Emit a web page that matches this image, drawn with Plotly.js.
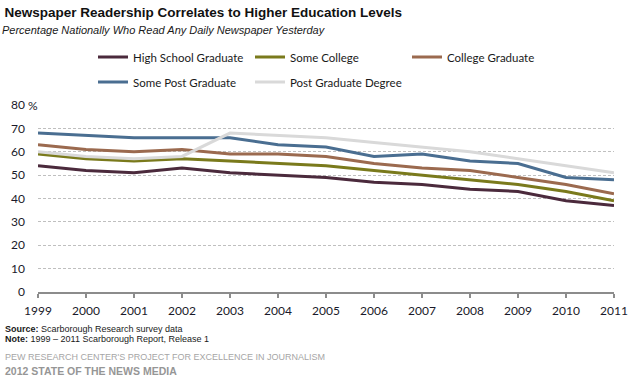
<!DOCTYPE html>
<html>
<head>
<meta charset="utf-8">
<script src="https://cdn.plot.ly/plotly-3.0.1.min.js"></script>
<style>html,body{margin:0;padding:0;background:#fff;}#chart{width:637px;height:386px;}</style>
</head>
<body>
<div id="chart"></div>
<script>
const years = ['1999','2000','2001','2002','2003','2004','2005','2006','2007','2008','2009','2010','2011'];
const highSchool   = [54, 52, 51, 53, 51, 50, 49, 47, 46, 44, 43, 39, 37];
const someCollege  = [59, 57, 56, 57, 56, 55, 54, 52, 50, 48, 46, 43, 39];
const collegeGrad  = [63, 61, 60, 61, 59, 59, 58, 55, 53, 52, 49, 46, 42];
const somePostGrad = [68, 67, 66, 66, 66, 63, 62, 58, 59, 56, 55, 49, 48];
const postGradDeg  = [60, 58, 57, 58, 68, 67, 66, 64, 62, 60, 57, 54, 51];
const yTickVals = [0, 10, 20, 30, 40, 50, 60, 70, 80];
const yTickText = ['0', '10', '20', '30', '40', '50', '60', '70', '80'];

const W = 637, H = 386;
const legendFont = {family: 'Lato, "Liberation Sans", Arial, sans-serif', size: 11.5, color: '#1a1a1a'};
function tr(name, y, color, legend) {
  return {x: years, y: y, name: name, type: 'scatter', mode: 'lines',
          line: {color: color, width: 3}, legend: legend, hoverinfo: 'x+y+name'};
}
const data = [
  tr('High School Graduate', highSchool, '#4b2a3c', 'legend'),
  tr('Some College', someCollege, '#7a7a1c', 'legend'),
  tr('College Graduate', collegeGrad, '#9b6a4f', 'legend'),
  tr('Some Post Graduate', somePostGrad, '#4a6e91', 'legend2'),
  tr('Post Graduate Degree', postGradDeg, '#d9d9d9', 'legend2')
];
const legendBase = {orientation: 'h', xref: 'container', yref: 'container',
           xanchor: 'left', yanchor: 'middle', font: legendFont,
           entrywidth: 112, entrywidthmode: 'pixels', bgcolor: 'rgba(0,0,0,0)', borderwidth: 0,
           itemclick: false, itemdoubleclick: false};
const layout = {
  width: W, height: H,
  margin: {l: 38, r: 23, t: 105, b: 94, pad: 0},
  paper_bgcolor: '#ffffff', plot_bgcolor: '#ffffff',
  showlegend: true,
  title: {text: 'Newspaper Readership Correlates to Higher Education Levels',
          font: {family: 'Arial, "Liberation Sans", sans-serif', size: 13.5, color: '#111111', weight: 'bold'},
          x: 0.007, xref: 'container', xanchor: 'left', y: 0.968, yref: 'container', yanchor: 'middle'},
  xaxis: {type: 'category', range: [0, 12], showgrid: false, zeroline: false,
          showline: true, linecolor: '#8c8c8c', linewidth: 1.5,
          ticks: 'outside', ticklen: 4, tickcolor: '#8c8c8c', tickwidth: 1.5,
          tickfont: {family: 'Lato, "Liberation Sans", Arial, sans-serif', size: 12, color: '#1a1a2a'},
          ticklabelstandoff: 3, fixedrange: true},
  yaxis: {range: [0, 80], tickvals: yTickVals, ticktext: yTickText,
          showgrid: true, gridcolor: '#bfbfbf', gridwidth: 1, griddash: '3px,2px',
          zeroline: false, showline: false, ticks: '',
          tickfont: {family: 'Lato, "Liberation Sans", Arial, sans-serif', size: 12, color: '#1a1a2a'},
          ticklabelstandoff: 12, fixedrange: true},
  legend: Object.assign({}, legendBase, {x: 93 / W, y: 1 - 57 / H}),
  legend2: Object.assign({}, legendBase, {x: 93 / W, y: 1 - 82 / H}),
  annotations: [
    {text: '<i>Percentage Nationally Who Read Any Daily Newspaper Yesterday</i>', xref: 'paper', yref: 'paper',
     x: -38/576, y: 1 + (105 - 30)/187, xanchor: 'left', yanchor: 'middle', showarrow: false,
     font: {family: 'Arial, "Liberation Sans", sans-serif', size: 11, color: '#1a1a1a'}},
    {text: '%', xref: 'paper', yref: 'y', x: -12/576, y: 80, xanchor: 'left', yanchor: 'middle', showarrow: false,
     font: {family: 'Lato, "Liberation Sans", Arial, sans-serif', size: 12, color: '#1a1a2a'}},
    {text: '<b>Source:</b> Scarborough Research survey data', xref: 'paper', yref: 'paper',
     x: -35/576, y: -(329 - 292)/187, xanchor: 'left', yanchor: 'middle', showarrow: false,
     font: {family: 'Arial, "Liberation Sans", sans-serif', size: 9, color: '#1a1a1a'}},
    {text: '<b>Note:</b> 1999 – 2011 Scarborough Report, Release 1', xref: 'paper', yref: 'paper',
     x: -35/576, y: -(338.5 - 292)/187, xanchor: 'left', yanchor: 'middle', showarrow: false,
     font: {family: 'Arial, "Liberation Sans", sans-serif', size: 9, color: '#1a1a1a'}},
    {text: "PEW RESEARCH CENTER'S PROJECT FOR EXCELLENCE IN JOURNALISM", xref: 'paper', yref: 'paper',
     x: -35/576, y: -(357 - 292)/187, xanchor: 'left', yanchor: 'middle', showarrow: false,
     font: {family: 'Arial, "Liberation Sans", sans-serif', size: 9, color: '#a6a6a6'}},
    {text: '<b>2012 STATE OF THE NEWS MEDIA</b>', xref: 'paper', yref: 'paper',
     x: -35/576, y: -(371 - 292)/187, xanchor: 'left', yanchor: 'middle', showarrow: false,
     font: {family: 'Arial, "Liberation Sans", sans-serif', size: 10.5, color: '#969696'}}
  ]
};
Plotly.newPlot('chart', data, layout, {displayModeBar: false, staticPlot: true});
</script>
</body>
</html>
